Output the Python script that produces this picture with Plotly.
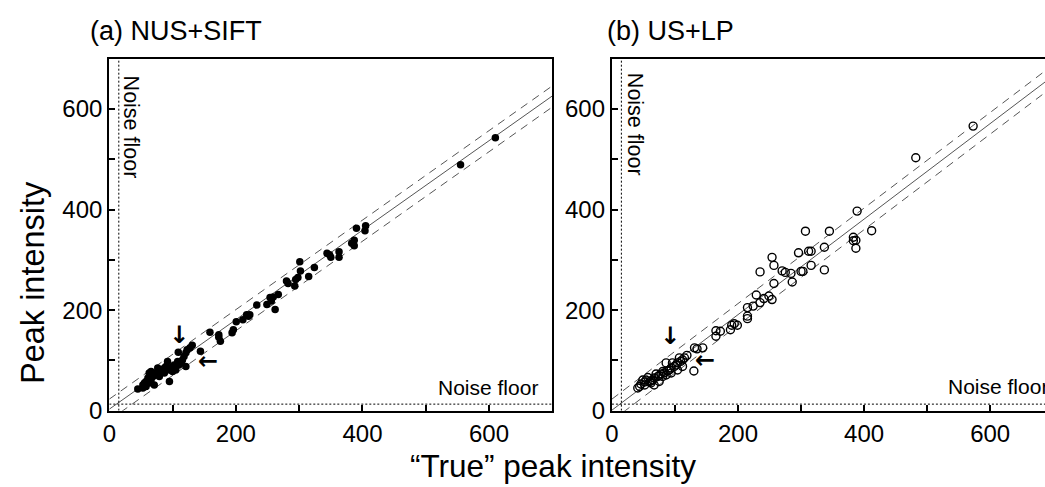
import numpy as np
import plotly.graph_objects as go

# ---------------- data ----------------
a_true = [610, 555, 405, 404, 390.5, 387, 383, 387, 363, 363, 348, 344, 350, 324, 301, 302, 315,
          298, 294.5, 293, 282.5, 280, 267, 259, 254, 256, 249, 262, 233, 222, 220, 217, 211, 200.6,
          196, 194, 173, 173, 175.5, 159, 144,
          131, 127.5, 123, 121, 118, 115.5, 113, 110, 108, 109, 102.5, 100, 97, 95, 92, 89.5, 87, 84,
          82, 79, 76.5, 74, 71, 69, 66, 63, 61, 58, 55.5, 53, 53, 45, 95, 71, 121, 105, 100, 87, 79,
          66, 63, 58]
a_peak = [543, 489, 368, 358, 363, 339, 333, 328, 316, 305, 310, 313, 305, 285, 296, 278, 267,
          265, 261, 248, 253, 258, 231, 226, 225, 218, 211, 201, 210, 191, 188, 191, 181, 177,
          161, 155, 151, 146, 138, 156, 118,
          130, 125, 121, 115, 108, 101, 95, 91, 98, 116, 91, 88, 85, 81, 98, 88, 85, 81,
          79, 78, 85, 75, 71, 68, 78, 75, 65, 58, 55, 51, 45, 43, 58, 51, 88, 81, 78, 75, 68,
          61, 55, 48]

b_true = [573, 482, 389, 412, 383, 387, 383, 387, 345, 307, 337, 337, 316, 312, 316, 296, 303, 300,
          286, 284, 275, 270, 257, 254, 257, 235, 254, 249, 241, 235, 229, 224, 215, 215, 215,
          199, 194, 190, 188, 172, 165, 165, 144, 135, 131, 130,
          119, 115, 112, 109, 107, 104, 102, 99, 96, 94, 91, 88, 86, 83, 80.5, 78, 75, 73, 70, 67,
          65, 62, 60, 57, 54, 52, 49, 46, 44, 41, 67, 52, 112, 104, 94, 86, 80.5, 75, 62]
b_peak = [566, 503, 397, 358, 345, 339, 338, 323, 357, 357, 325, 280, 317, 317, 289, 314, 277, 277,
          256, 273, 275, 278, 289, 305, 253, 276, 221, 228, 223, 215, 230, 208, 205, 188, 183,
          170, 173, 170, 161, 158, 159, 148, 125, 123, 125, 79,
          110, 105, 101, 98, 105, 95, 91, 88, 95, 85, 81, 79, 95, 75, 78, 73, 70, 68, 73, 65,
          61, 59, 58, 66, 61, 57, 61, 53, 48, 45, 51, 51, 88, 81, 75, 71, 68, 58, 55]

# fitted line (slope, intercept) and band offsets (upper, lower) per panel
fit_a = (0.89, 3.0)
fit_b = (0.95, 1.0)
band_a = (20.0, -22.0)
band_b = (22.0, -21.0)
noise_floor_x = 15
noise_floor_y = 13

x_ticks = [0, 200, 400, 600]
y_ticks = [0, 200, 400, 600]

FONT = "Liberation Sans, Arial, Helvetica, sans-serif"
ARROW_FONT = "DejaVu Sans, sans-serif"

W, H = 1045, 502   # layout height compensates for the capture scaling
REF_H = 487        # reference picture height used for fractions

fig = go.Figure()


def add_panel(xs, ys, fit, band, xa, ya, symbol, size, xmax):
    lx = np.array([0, xmax], dtype=float)
    m, c = fit
    fig.add_trace(go.Scatter(x=lx, y=m * lx + c, mode="lines", xaxis=xa, yaxis=ya,
                             line=dict(color="#555555", width=1), showlegend=False, hoverinfo="skip"))
    for off in band:
        fig.add_trace(go.Scatter(x=lx, y=m * lx + c + off, mode="lines", xaxis=xa, yaxis=ya,
                                 line=dict(color="#555555", width=1, dash="8px,6px"),
                                 showlegend=False, hoverinfo="skip"))
    fig.add_trace(go.Scatter(x=[noise_floor_x, noise_floor_x], y=[0, 700], mode="lines",
                             xaxis=xa, yaxis=ya, line=dict(color="black", width=1, dash="2px,2px"),
                             showlegend=False, hoverinfo="skip"))
    fig.add_trace(go.Scatter(x=[0, 700], y=[noise_floor_y, noise_floor_y], mode="lines",
                             xaxis=xa, yaxis=ya, line=dict(color="black", width=1, dash="2px,2px"),
                             showlegend=False, hoverinfo="skip"))
    mk = dict(symbol=symbol, size=size, color="black")
    if symbol == "circle-open":
        mk["line"] = dict(width=1.4, color="#111111")
    fig.add_trace(go.Scatter(x=xs, y=ys, mode="markers", xaxis=xa, yaxis=ya, marker=mk,
                             showlegend=False))


add_panel(a_true, a_peak, fit_a, band_a, "x", "y", "circle", 7.5, 700)
add_panel(b_true, b_peak, fit_b, band_b, "x2", "y2", "circle-open", 8, 700)

ydom = [1 - 409 / REF_H, 1 - 58.5 / REF_H]
axis_common = dict(showgrid=False, zeroline=False, showline=True, linewidth=2.2, linecolor="black",
                   ticks="inside", ticklen=6, tickwidth=1.5, tickcolor="black",
                   tickfont=dict(family=FONT, size=24, color="black"),
                   minor=dict(dtick=100, ticks="inside", ticklen=6, tickwidth=1.5, tickcolor="black"))

fig.update_layout(
    width=W, height=H,
    margin=dict(l=0, r=0, t=0, b=0),
    paper_bgcolor="white", plot_bgcolor="white",
    font=dict(family=FONT, color="black"),
    xaxis=dict(domain=[103 / W, 549 / W], range=[0, 700], tickvals=x_ticks,
               mirror=True, anchor="y", **axis_common),
    yaxis=dict(domain=ydom, range=[0, 700], tickvals=y_ticks, mirror=True, anchor="x",
               **axis_common),
    xaxis2=dict(domain=[609 / W, 1.0], range=[0, 687], tickvals=x_ticks,
                mirror=True, anchor="y2", **axis_common),
    yaxis2=dict(domain=ydom, range=[0, 700], tickvals=y_ticks, mirror=False, anchor="x2",
                **axis_common),
)

ann = []
ann.append(dict(text="(a) NUS+SIFT", xref="paper", yref="paper", x=82 / W, y=1 - 31 / REF_H,
                xanchor="left", yanchor="middle", showarrow=False, font=dict(size=27, family=FONT)))
ann.append(dict(text="(b) US+LP", xref="paper", yref="paper", x=602 / W, y=1 - 31 / REF_H,
                xanchor="left", yanchor="middle", showarrow=False, font=dict(size=27, family=FONT)))
ann.append(dict(text="Peak intensity", xref="paper", yref="paper", x=26 / W, y=1 - 281 / REF_H,
                textangle=-90, xanchor="center", yanchor="middle", showarrow=False,
                font=dict(size=32.5, family=FONT)))
ann.append(dict(text="\u201cTrue\u201d peak intensity", xref="paper", yref="paper", x=550 / W,
                y=1 - 464 / REF_H, xanchor="center", yanchor="middle", showarrow=False,
                font=dict(size=31.5, family=FONT)))
for xr, yr, vx, vy, hx, hy, hanchor in [("x", "y", 33.5, 564, 681, 47, "right"),
                                        ("x2", "y2", 37, 570, 530.6, 48, "left")]:
    ann.append(dict(text="Noise floor", xref=xr, yref=yr, x=vx, y=vy, textangle=90,
                    xanchor="center", yanchor="middle", showarrow=False,
                    font=dict(size=21.5, family=FONT)))
    ann.append(dict(text="Noise floor", xref=xr, yref=yr, x=hx, y=hy, xanchor=hanchor,
                    yanchor="middle", showarrow=False, font=dict(size=21, family=FONT)))
for xr, yr, dx, dy, lx, ly in [("x", "y", 110, 150, 156, 98), ("x2", "y2", 92.6, 148, 148, 101)]:
    ann.append(dict(text="<b>\u2193</b>", xref=xr, yref=yr, x=dx, y=dy, xanchor="center",
                    yanchor="middle", showarrow=False,
                    font=dict(size=24, family=ARROW_FONT, color="black")))
    ann.append(dict(text="<b>\u2190</b>", xref=xr, yref=yr, x=lx, y=ly, xanchor="center",
                    yanchor="middle", showarrow=False,
                    font=dict(size=24, family=ARROW_FONT, color="black")))

fig.update_layout(annotations=ann)
post = ("var d=document.getElementById('{plot_id}');"
        "d.style.position='fixed';d.style.top='0px';d.style.left='0px';"
        "document.documentElement.style.overflow='hidden';"
        "document.body.style.margin='0';document.body.style.overflow='hidden';")
fig.write_html("out.html", config={"displayModeBar": False}, post_script=post)
